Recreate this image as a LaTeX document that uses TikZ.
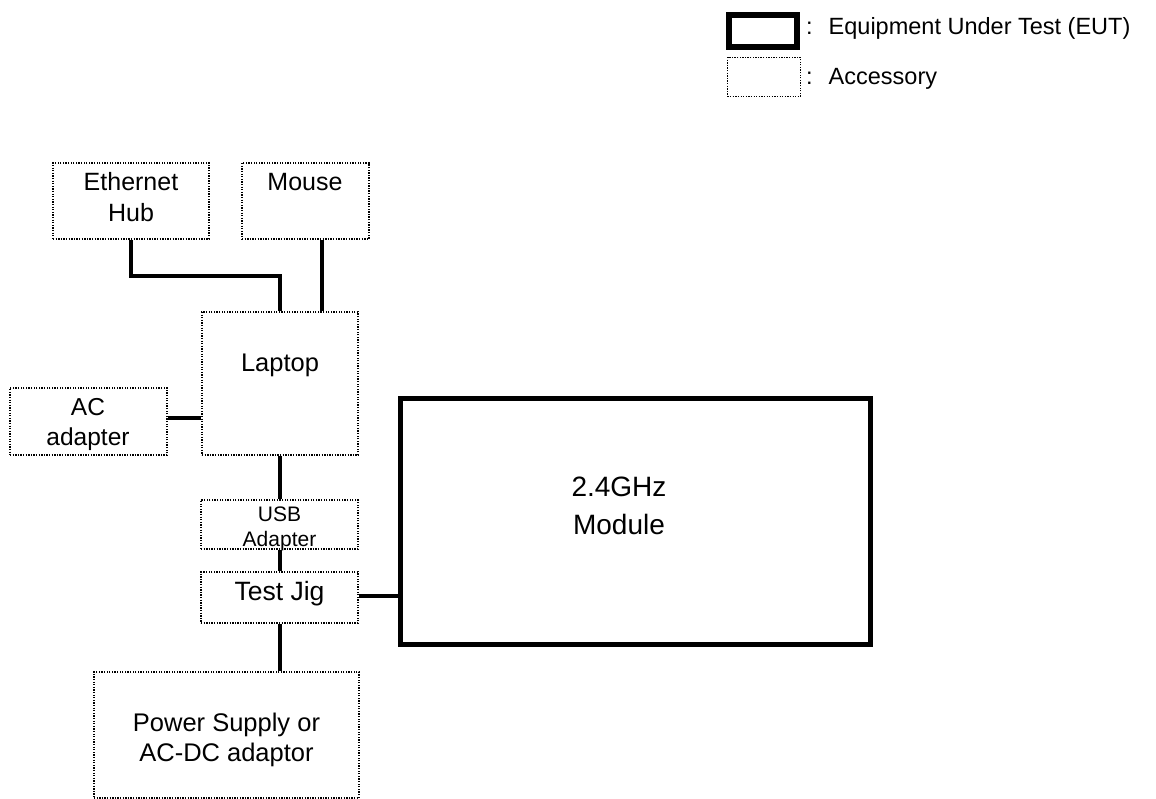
\documentclass[tikz,border=0pt]{standalone}
\usepackage{fontspec}
\setmainfont{Liberation Sans}
\usetikzlibrary{positioning}
\newcommand{\setfs}[2]{\fontsize{#1}{#2}\selectfont}

\begin{document}
\begin{tikzpicture}[x=1pt,y=-1pt,
  acc/.style={draw,dash pattern=on 1.3pt off 1.3pt,line width=1.3pt,inner sep=0pt},
  eut/.style={draw,line width=5pt,inner sep=0pt},
  cable/.style={line width=4pt},
  lbl/.style={anchor=base,align=center,inner sep=0pt}]
\useasboundingbox (0,0) rectangle (1156,799);

% legend
\node[eut,line width=6pt,minimum width=68,minimum height=32] (keyeut) at (763,31) {};
\node[acc,minimum width=73,minimum height=39] (keyacc) at (764,77) {};
\node[anchor=base west,inner sep=0pt,font=\setfs{23.5}{28}] (keyeuttxt) at (806,35) {:\hspace{16pt}Equipment Under Test (EUT)};
\node[anchor=base west,inner sep=0pt,font=\setfs{23.5}{28}] (keyacctxt) at (806,85) {:\hspace{16pt}Accessory};

% boxes
\node[acc,minimum width=156,minimum height=76] (hub) at (131,201) {};
\node[acc,minimum width=127,minimum height=76] (mouse) at (305.5,201) {};
\node[acc,minimum width=156,minimum height=143] (laptop) at (280,383.5) {};
\node[acc,minimum width=157,minimum height=67] (acad) at (88.5,421.5) {};
\node[acc,minimum width=157,minimum height=49] (usb) at (279.5,524.5) {};
\node[acc,minimum width=157,minimum height=51] (jig) at (279.5,597.5) {};
\node[acc,minimum width=265,minimum height=126] (power) at (226.5,735) {};
\node[eut,minimum width=470,minimum height=246] (module) at (635.5,521.5) {};

% texts (base = last line)
\node[lbl,font=\setfs{25}{31}] (hubtxt) at (131,221.7) {Ethernet\\Hub};
\node[lbl,font=\setfs{25}{31}] (mousetxt) at (305,190.7) {Mouse};
\node[lbl,font=\setfs{25.5}{31}] (laptoptxt) at (280,371) {Laptop};
\node[lbl,font=\setfs{24.5}{30.7}] (actxt) at (88,445.7) {AC\\adapter};
\node[lbl,font=\setfs{21}{25}] (usbtxt) at (279.5,546.7) {USB\\Adapter};
\node[lbl,font=\setfs{26.5}{31}] (jigtxt) at (279.5,600) {Test Jig};
\node[lbl,font=\setfs{25.5}{30}] (powertxt) at (226.5,761) {Power Supply or\\AC-DC adaptor};
\node[lbl,font=\setfs{28}{37.5}] (moduletxt) at (619,534) {2.4GHz\\Module};

% cables
\coordinate (hubbend) at (280,276);
\coordinate (mousejack) at ([xshift=16.5pt]mouse.south);
\draw[cable] (hub.south) |- (hubbend) -- (laptop.north);
\draw[cable] (mousejack) -- (mousejack |- laptop.north);
\draw[cable] ([yshift=3.5pt]acad.east) -- ([yshift=3.5pt]acad.east -| laptop.west);
\draw[cable] (laptop.south) -- (laptop.south |- usb.north);
\draw[cable] (usb.south) -- (usb.south |- jig.north);
\draw[cable] ([yshift=1.5pt]jig.east) -- ([yshift=1.5pt]jig.east -| module.west);
\draw[cable] (jig.south) -- (jig.south |- power.north);
\end{tikzpicture}
\end{document}
